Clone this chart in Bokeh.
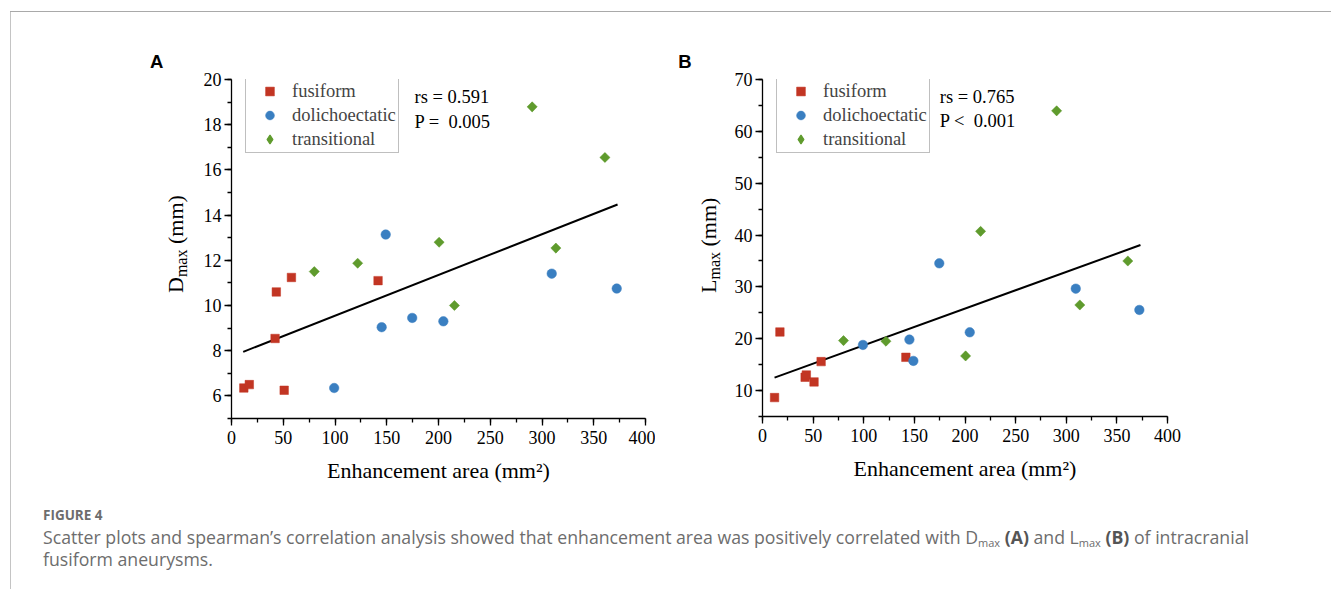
import math
from bokeh.plotting import figure
from bokeh.models import (Label, Legend, LegendItem, SingleIntervalTicker,
                          Range1d, Div)
from bokeh.layouts import row, column
from bokeh.embed import file_html
from bokeh.resources import INLINE

# ---------------- data ----------------
groups = ["fusiform", "dolichoectatic", "transitional"]

fus_area = [11.9, 17.2, 42.1, 43.3, 50.9, 57.9, 141.6]
fus_dmax = [6.35, 6.5, 8.54, 10.6, 6.25, 11.24, 11.1]
fus_lmax = [8.65, 21.3, 12.57, 13.0, 11.67, 15.59, 16.42]

dol_area = [99.2, 145.1, 149.0, 174.6, 204.7, 309.4, 372.2]
dol_dmax = [6.35, 9.04, 13.14, 9.45, 9.30, 11.41, 10.75]
dol_lmax = [18.8, 19.83, 15.72, 34.54, 21.24, 29.66, 25.55]

tra_area = [80.0, 121.9, 200.6, 215.4, 290.5, 313.4, 360.8]
tra_dmax = [11.5, 11.87, 12.8, 10.0, 18.79, 12.54, 16.55]
tra_lmax = [19.64, 19.52, 16.68, 40.71, 63.96, 26.51, 34.99]

fitA_x = [11.3, 373.0]
fitA_y = [7.95, 14.47]
fitB_x = [11.9, 373.3]
fitB_y = [12.5, 38.07]

statsA = ["rs = 0.591", "P = \u00a00.005"]
statsB = ["rs = 0.765", "P < \u00a00.001"]

x_label = "Enhancement area (mm\u00b2)"

RED = "#c23523"
BLUE = "#3a7fc1"
GREEN = "#5f9b2d"
SERIF = "Liberation Serif"


def make_panel(yvals, yrange, yint, fit_x, fit_y, stats,
               mb_left, mb_right, mb_top, mb_bottom, fw, fh,
               stats_x, stats_y):
    p = figure(width=mb_left + fw + mb_right, height=mb_top + fh + mb_bottom,
               frame_width=fw, frame_height=fh,
               x_range=Range1d(0, 400), y_range=Range1d(*yrange),
               output_backend="svg", toolbar_location=None,
               min_border_left=mb_left, min_border_right=mb_right,
               min_border_top=mb_top, min_border_bottom=mb_bottom,
               background_fill_color="white", border_fill_color="white")
    p.outline_line_color = None
    p.xgrid.visible = False
    p.ygrid.visible = False

    p.xaxis.ticker = SingleIntervalTicker(interval=50, num_minor_ticks=2)
    p.yaxis.ticker = SingleIntervalTicker(interval=yint, num_minor_ticks=2)
    p.xaxis.axis_label = x_label
    p.xaxis.axis_label_text_font = SERIF
    p.xaxis.axis_label_text_font_size = "22px"
    p.xaxis.axis_label_text_font_style = "normal"
    p.xaxis.axis_label_text_color = "black"
    p.xaxis.axis_label_standoff = 11
    p.xaxis.major_label_standoff = 5
    p.yaxis.major_label_standoff = 3
    for ax in (p.xaxis[0], p.yaxis[0]):
        ax.axis_line_color = "black"
        ax.axis_line_width = 1.3
        ax.major_tick_line_color = "black"
        ax.major_tick_line_width = 1.3
        ax.minor_tick_line_color = "black"
        ax.minor_tick_line_width = 1.3
        ax.major_tick_out = 7
        ax.major_tick_in = 0
        ax.minor_tick_out = 4
        ax.minor_tick_in = 0
        ax.major_label_text_font = SERIF
        ax.major_label_text_font_size = "18px"
        ax.major_label_text_color = "black"

    p.line(fit_x, fit_y, line_color="black", line_width=2)

    r1 = p.scatter(fus_area, yvals[0], marker="square", size=8.5,
                   fill_color=RED, line_color=RED, line_width=0.5)
    r2 = p.scatter(dol_area, yvals[1], marker="circle", size=9.5,
                   fill_color=BLUE, line_color=BLUE, line_width=0.5)
    # diamond-marker renderer used for the legend swatch; it lies fully
    # underneath the rotated squares drawn next
    r3 = p.scatter(tra_area, yvals[2], marker="diamond", size=8,
                   fill_color=GREEN, line_color=GREEN, line_width=1.2)
    p.scatter(tra_area, yvals[2], marker="square", size=7.2,
              angle=math.pi / 4,
              fill_color=GREEN, line_color=GREEN, line_width=0.5)

    leg = Legend(items=[LegendItem(label=groups[0], renderers=[r1]),
                        LegendItem(label=groups[1], renderers=[r2]),
                        LegendItem(label=groups[2], renderers=[r3])],
                 location=(14, fh - 74), margin=0, padding=2, spacing=2,
                 glyph_width=43, glyph_height=22, label_height=22,
                 label_standoff=1, label_text_font=SERIF,
                 label_text_font_size="18.5px",
                 border_line_color="#808080", border_line_width=1,
                 background_fill_color="white", background_fill_alpha=1)
    p.add_layout(leg)

    for txt, yy in zip(stats, stats_y):
        p.add_layout(Label(x=stats_x, y=yy, x_units="screen", y_units="screen",
                           text=txt, text_font=SERIF, text_font_size="18.5px",
                           text_color="black", text_align="left",
                           text_baseline="alphabetic"))
    return p


# panel A: frame x 231..645, y 78..417 ; panel B: frame x 762..1167, y 79..416
pA = make_panel([fus_dmax, dol_dmax, tra_dmax], (5, 20), 2,
                fitA_x, fitA_y, statsA,
                40, 10, 66, 78, 414, 339, 183, (321.3, 297))
pB = make_panel([fus_lmax, dol_lmax, tra_lmax], (5, 70), 10,
                fitB_x, fitB_y, statsB,
                40, 100, 67, 79, 405, 337, 177.3, (319.3, 296))


def side_div(width, letter, letter_left, main, lab_left):
    html = (
        f'<div style="position:relative;width:{width}px;height:483px;">'
        f'<div style="position:absolute;left:{letter_left}px;top:40.6px;'
        'font-family:\'Liberation Sans\';font-weight:bold;font-size:18.5px;'
        f'line-height:18.5px;color:#000;">{letter}</div>'
        f'<div style="position:absolute;left:{lab_left}px;top:281px;'
        'transform-origin:0 0;transform:rotate(-90deg);white-space:nowrap;'
        'font-family:\'Liberation Serif\';font-size:22px;line-height:22px;'
        f'color:#000;">{main}<span style="font-size:16px;position:relative;'
        'top:4px;line-height:0;">max</span> (mm)</div></div>'
    )
    return Div(text=html, width=width, height=483, margin=0)


labA = side_div(180, "A", 139, "D", 153.9)
labB = side_div(67, "B", 23.3, "L", 43.3)

sub = ('<span style="font-size:11px;position:relative;top:3px;'
       'line-height:0;">max</span>')
caption_html = (
    '<div style="padding-left:32px;font-family:\'Open Sans\';color:#6d6d6d;">'
    '<div style="font-size:13.5px;font-weight:700;line-height:18px;'
    'margin-top:11px;">FIGURE 4</div>'
    '<div style="font-size:17.7px;line-height:22px;margin-top:2px;'
    'white-space:nowrap;">'
    'Scatter plots and spearman\u2019s correlation analysis showed that '
    'enhancement area was positively correlated with D' + sub +
    ' <b style="color:#555;">(A)</b> and L' + sub +
    ' <b style="color:#555;">(B)</b> of intracranial<br>fusiform aneurysms.'
    '</div></div>'
)
cap = Div(text=caption_html, width=1300, height=82, margin=0)

topline = Div(text="", width=1321, height=1, margin=(11, 0, 0, 10),
              styles={"background-color": "#a9a9a9"})
leftline = Div(text="", width=1, height=577, margin=(0, 0, 0, 10),
               styles={"background-color": "#c4c4c4"})

inner = column(row(labA, pA, labB, pB, spacing=0), cap, spacing=0)
layout = column(topline, row(leftline, inner, spacing=0), spacing=0)

open("out.html", "w").write(file_html(layout, INLINE))
